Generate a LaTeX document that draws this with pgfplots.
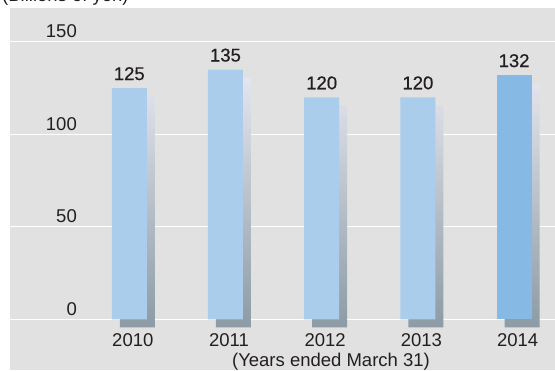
\documentclass[border=0pt]{standalone}
\usepackage{pgfplots}
\pgfplotsset{compat=1.18}
\usepackage{fontspec}
\setmainfont{Liberation Sans}
\newfontfamily\valfont[FakeBold=0.6]{Liberation Sans}
\definecolor{panel}{HTML}{E1E1E1}
\definecolor{barlight}{HTML}{ABCDEC}
\definecolor{bardark}{HTML}{86BAE4}
\definecolor{shtop}{HTML}{E4E5EE}
\definecolor{shbot}{HTML}{8C9BA5}
\definecolor{txt}{HTML}{231F20}
\begin{document}
\begin{tikzpicture}
\useasboundingbox (0,0) rectangle (555pt,370pt);
\node[anchor=base west, inner sep=0pt, text=txt, font=\fontsize{18.5}{22}\selectfont] at (2pt,368pt) {(Billions of yen)};
\begin{axis}[
 at={(10pt,0pt)}, anchor=south west,
 scale only axis, width=545pt, height=362pt,
 xmin=-1.2401, xmax=4.4252, ymin=-27.41, ymax=168.27,
 /pgf/number format/assume math mode=true,
 axis background/.style={fill=panel},
 axis line style={draw=none},
 major tick length=0pt,
 ytick={0,50,100,150},
 ymajorgrids, grid style={white, line width=1.2pt},
 xtick={0,1,2,3,4},
 xticklabels={2010,2011,2012,2013,2014},
 ticklabel style={font=\fontsize{18.5}{22}\selectfont, text=txt, inner sep=0pt},
 yticklabel style={anchor=base east, xshift=67pt, yshift=4pt},
 xticklabel style={anchor=base, xshift=3.5pt, yshift=23.5pt},
 clip=false,
]
\addplot[ybar, bar width=35pt, bar shift=0pt, xshift=8pt, yshift=-8pt, draw=none, top color=shtop, bottom color=shbot]
 coordinates {(0,125) (1,135) (2,120) (3,120) (4,132)};
\addplot[ybar, bar width=35pt, bar shift=0pt, draw=none, fill=barlight,
 nodes near coords,
 nodes near coords style={anchor=base, inner sep=0pt, yshift=8pt, font=\valfont\fontsize{18.5}{22}\selectfont, text=txt}]
 coordinates {(0,125) (1,135) (2,120) (3,120)};
\addplot[ybar, bar width=35pt, bar shift=0pt, draw=none, fill=bardark,
 nodes near coords,
 nodes near coords style={anchor=base, inner sep=0pt, yshift=8pt, font=\valfont\fontsize{18.5}{22}\selectfont, text=txt}]
 coordinates {(4,132)};
\node[anchor=base, inner sep=0pt, text=txt, font=\fontsize{18.5}{22}\selectfont] at (axis cs:2.0967,-25.62) {(Years ended March 31)};
\end{axis}
\end{tikzpicture}
\end{document}
